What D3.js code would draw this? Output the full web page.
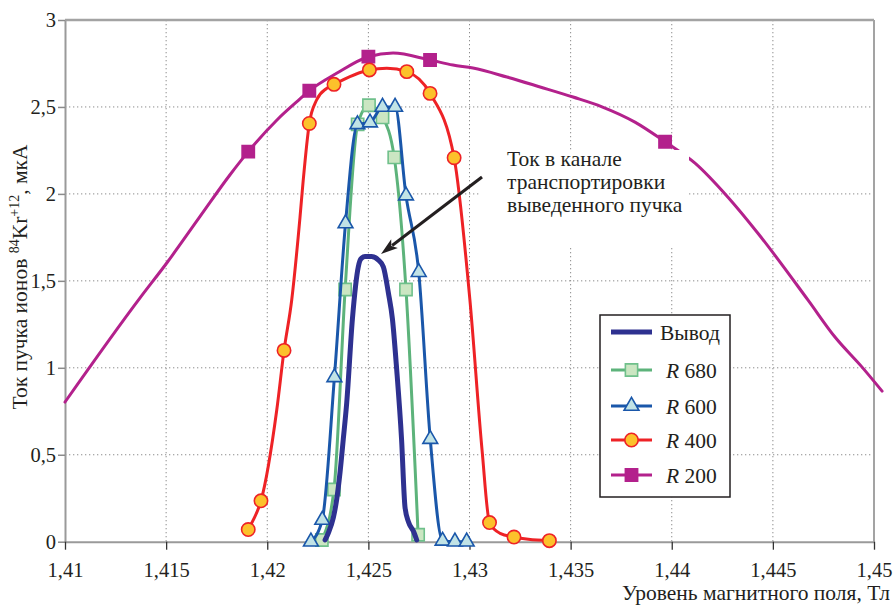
<!DOCTYPE html>
<html>
<head>
<meta charset="utf-8">
<script src="https://cdn.jsdelivr.net/npm/d3@7"></script>
<style>
  html, body { margin: 0; padding: 0; background: #fff; }
</style>
</head>
<body>
<script>
// Magnetic field level, T
const xTicks = [1.41, 1.415, 1.42, 1.425, 1.43, 1.435, 1.44, 1.445, 1.45];
// Beam current, uA
const yTicks = [0, 0.5, 1, 1.5, 2, 2.5, 3];

// Extracted beam current (no markers)
const vyvod = [
  [1.42286, 0.01], [1.42302, 0.05], [1.42327, 0.14], [1.42343, 0.24], [1.42360, 0.40],
  [1.42376, 0.59], [1.42393, 0.80], [1.42421, 1.28], [1.42450, 1.58], [1.42462, 1.625],
  [1.42483, 1.64], [1.42516, 1.64], [1.42549, 1.62], [1.42574, 1.58], [1.42599, 1.43],
  [1.42619, 1.28], [1.42640, 0.99], [1.42664, 0.59], [1.42681, 0.20], [1.42698, 0.115],
  [1.42723, 0.06], [1.42739, 0.01]
];

// Radius 680
const r680 = [
  [1.4227, 0.01], [1.4233, 0.30], [1.42385, 1.45], [1.42447, 2.40], [1.42503, 2.51],
  [1.4257, 2.44], [1.42628, 2.21], [1.42686, 1.45], [1.42746, 0.04]
];

// Radius 600
const r600 = [
  [1.42216, 0.0], [1.42272, 0.125], [1.42332, 0.945], [1.42387, 1.83], [1.42446, 2.40],
  [1.42508, 2.41], [1.4257, 2.50], [1.42632, 2.50], [1.42686, 1.99], [1.42749, 1.55],
  [1.42806, 0.59], [1.42867, 0.005], [1.42928, 0.0], [1.42986, 0.0]
];

// Radius 400: measured points and the in-between points of the drawn curve
const r400 = [
  [1.41906, 0.07], [1.41969, 0.235], [1.42083, 1.10], [1.42208, 2.405], [1.4233, 2.63],
  [1.42505, 2.713], [1.4269, 2.703], [1.42805, 2.578], [1.42924, 2.208], [1.43099, 0.11],
  [1.4322, 0.027], [1.43395, 0.006]
];
const r400Curve = [
  [1.41931, 0.125], [1.42047, 0.757], [1.42121, 1.39], [1.42162, 1.867], [1.42178, 2.08],
  [1.42244, 2.54], [1.42294, 2.607], [1.42591, 2.722], [1.43002, 1.39], [1.43062, 0.528],
  [1.43151, 0.048], [1.43291, 0.014]
];

// Radius 200: measured points and the in-between points of the drawn curve
const r200 = [
  [1.41906, 2.243], [1.42208, 2.593], [1.425, 2.789], [1.42805, 2.77], [1.43967, 2.30]
];
const r200Curve = [
  [1.41, 0.803], [1.41371, 1.402], [1.41504, 1.604], [1.41667, 1.869], [1.41816, 2.110],
  [1.42048, 2.425], [1.42162, 2.546], [1.42345, 2.695], [1.42622, 2.810], [1.42918, 2.741],
  [1.43017, 2.724], [1.43185, 2.672], [1.43349, 2.615], [1.43512, 2.557], [1.43655, 2.501],
  [1.43818, 2.413], [1.44115, 2.177], [1.44278, 1.981], [1.44426, 1.774], [1.44674, 1.389],
  [1.44807, 1.177], [1.44941, 1.004], [1.4504, 0.866]
];

const legendNames = ["Вывод", "680", "600", "400", "200"];
const noteLines = ["Ток в канале", "транспортировки", "выведенного пучка"];

const FONT = '"Liberation Serif"';
const INK = "#231f20";
const TXT = 21.5;   // words
const NUM = 20.5;   // tick numbers
const W = 895, H = 607;
const svg = d3.select("body").append("svg").attr("width", W).attr("height", H);

const x = d3.scaleLinear().domain([1.41, 1.45]).range([65, 874]);
const y = d3.scaleLinear().domain([0, 3]).range([541.7, 20]);
const comma = d => String(d).replace(".", ",");

function label(sel, size) {
  return sel.style("font-family", FONT).style("font-size", size + "px").style("fill", INK);
}

// dotted grid
const grid = svg.append("g").attr("stroke", "#8c8c8c").attr("stroke-width", 1)
  .attr("stroke-dasharray", "1.3,2.7");
grid.selectAll("line.v").data(xTicks.slice(1, -1)).join("line").attr("class", "v")
  .attr("x1", d => x(d)).attr("x2", d => x(d)).attr("y1", y(3)).attr("y2", y(0));
grid.selectAll("line.h").data(yTicks.slice(1, -1)).join("line").attr("class", "h")
  .attr("x1", x(1.41)).attr("x2", x(1.45)).attr("y1", d => y(d)).attr("y2", d => y(d));

// frame: top and right
svg.append("line").attr("x1", x(1.41)).attr("x2", x(1.45)).attr("y1", y(3)).attr("y2", y(3))
  .attr("stroke", "#a3a3a3").attr("stroke-width", 2.5);
svg.append("line").attr("x1", x(1.45)).attr("x2", x(1.45)).attr("y1", y(3)).attr("y2", y(0))
  .attr("stroke", "#a3a3a3").attr("stroke-width", 2);

// axes
const yAxis = svg.append("g").attr("transform", `translate(${x(1.41)},0)`)
  .call(d3.axisLeft(y).tickValues(yTicks).tickFormat(comma).tickSize(7).tickSizeOuter(0).tickPadding(2));
yAxis.attr("font-family", null).attr("font-size", null);
yAxis.select(".domain").attr("stroke", "#9a9a9a").attr("stroke-width", 2);
yAxis.selectAll(".tick line").attr("stroke", "#8a8a8a").attr("stroke-width", 1.5);
label(yAxis.selectAll("text"), NUM);

const xAxis = svg.append("g").attr("transform", `translate(0,${y(0)})`)
  .call(d3.axisBottom(x).tickValues(xTicks).tickFormat(comma).tickSize(8).tickSizeOuter(0).tickPadding(13));
xAxis.attr("font-family", null).attr("font-size", null);
xAxis.select(".domain").attr("stroke", "#9a9a9a").attr("stroke-width", 2);
xAxis.selectAll(".tick line").attr("stroke", "#333").attr("stroke-width", 1.3);
label(xAxis.selectAll("text"), NUM);

// axis titles
label(svg.append("text"), TXT).attr("x", 890).attr("y", 600).attr("text-anchor", "end")
  .text("Уровень магнитного поля, Тл");

const yTitle = label(svg.append("text"), TXT).attr("transform", "translate(27,277) rotate(-90)")
  .attr("text-anchor", "middle");
yTitle.append("tspan").text("Ток пучка ионов ");
yTitle.append("tspan").style("font-size", "14px").attr("dy", -8).text("84");
yTitle.append("tspan").attr("dy", 8).text("Kr");
yTitle.append("tspan").style("font-size", "14px").attr("dy", -8).text("+12");
yTitle.append("tspan").attr("dy", 8).text(", мкА");

// series
const byX = (a, b) => a[0] - b[0];
const line = d3.line().x(d => x(d[0])).y(d => y(d[1])).curve(d3.curveMonotoneX);

const series = [
  { name: "200", pts: r200, curve: r200.concat(r200Curve).sort(byX), color: "#b3218c",
    sym: d3.symbolSquare, size: 150, fill: "#b3218c", stroke: "#b3218c", width: 3 },
  { name: "400", pts: r400, curve: r400.concat(r400Curve).sort(byX), color: "#ee2226",
    sym: d3.symbolCircle, size: 140, fill: "#fcc12b", stroke: "#ee2226", width: 3 },
  { name: "680", pts: r680, curve: r680, color: "#5db37b",
    sym: d3.symbolSquare, size: 150, fill: "#cbe6c2", stroke: "#6fc08b", width: 3 },
  { name: "600", pts: r600, curve: r600, color: "#1a57aa",
    sym: d3.symbolTriangle, size: 95, fill: "#c1e3e6", stroke: "#1a57aa", width: 3 },
  { name: "Вывод", pts: [], curve: vyvod, color: "#2e3190",
    sym: null, width: 5 }
];

series.forEach(s => {
  svg.append("path").datum(s.curve).attr("d", line)
    .attr("fill", "none").attr("stroke", s.color).attr("stroke-width", s.width)
    .attr("stroke-linejoin", "round").attr("stroke-linecap", "round");
  if (s.sym) {
    svg.append("g").selectAll("path").data(s.pts).join("path")
      .attr("transform", d => `translate(${x(d[0])},${y(d[1])})`)
      .attr("d", d3.symbol(s.sym, s.size))
      .attr("fill", s.fill).attr("stroke", s.stroke).attr("stroke-width", 1.6);
  }
});

// annotation box and text
svg.append("rect").attr("x", 481).attr("y", 150).attr("width", 208).attr("height", 97)
  .attr("fill", "#fff");
label(svg.append("g").selectAll("text").data(noteLines).join("text"), TXT)
  .attr("x", 507).attr("y", (d, i) => 165.5 + i * 23.3)
  .text(d => d);

// arrow from the note to the extracted beam peak
const ax0 = 482, ay0 = 177, ax1 = 381, ay1 = 254;
const ang = Math.atan2(ay1 - ay0, ax1 - ax0);
const hl = 17, hw = 5.5;
const bx = ax1 - hl * Math.cos(ang), by = ay1 - hl * Math.sin(ang);
svg.append("line").attr("x1", ax0).attr("y1", ay0).attr("x2", bx + 3 * Math.cos(ang)).attr("y2", by + 3 * Math.sin(ang))
  .attr("stroke", INK).attr("stroke-width", 3);
svg.append("path")
  .attr("d", `M${ax1},${ay1}L${bx - hw * Math.sin(ang)},${by + hw * Math.cos(ang)}L${bx + 4 * Math.cos(ang)},${by + 4 * Math.sin(ang)}L${bx + hw * Math.sin(ang)},${by - hw * Math.cos(ang)}Z`)
  .attr("fill", INK);

// legend
const lg = svg.append("g");
lg.append("rect").attr("x", 600).attr("y", 315).attr("width", 130).attr("height", 182)
  .attr("fill", "#fff").attr("stroke", INK).attr("stroke-width", 1.5);
const legendRows = [332, 370, 406, 440, 475];
const legendSeries = legendNames.map(n => series.find(s => s.name === n));
legendSeries.forEach((s, i) => {
  const cy = legendRows[i];
  lg.append("line").attr("x1", 611).attr("x2", 652).attr("y1", cy).attr("y2", cy)
    .attr("stroke", s.color).attr("stroke-width", s.width);
  if (s.sym) {
    lg.append("path").attr("transform", `translate(631.5,${cy})`)
      .attr("d", d3.symbol(s.sym, s.size)).attr("fill", s.fill)
      .attr("stroke", s.stroke).attr("stroke-width", 1.6);
    const t = label(lg.append("text"), TXT).attr("x", 666).attr("y", cy + 7.5);
    t.append("tspan").style("font-style", "italic").text("R");
    t.append("tspan").text(" " + s.name);
  } else {
    label(lg.append("text"), TXT).attr("x", 660).attr("y", cy + 7.5).text(s.name);
  }
});
</script>
</body>
</html>
